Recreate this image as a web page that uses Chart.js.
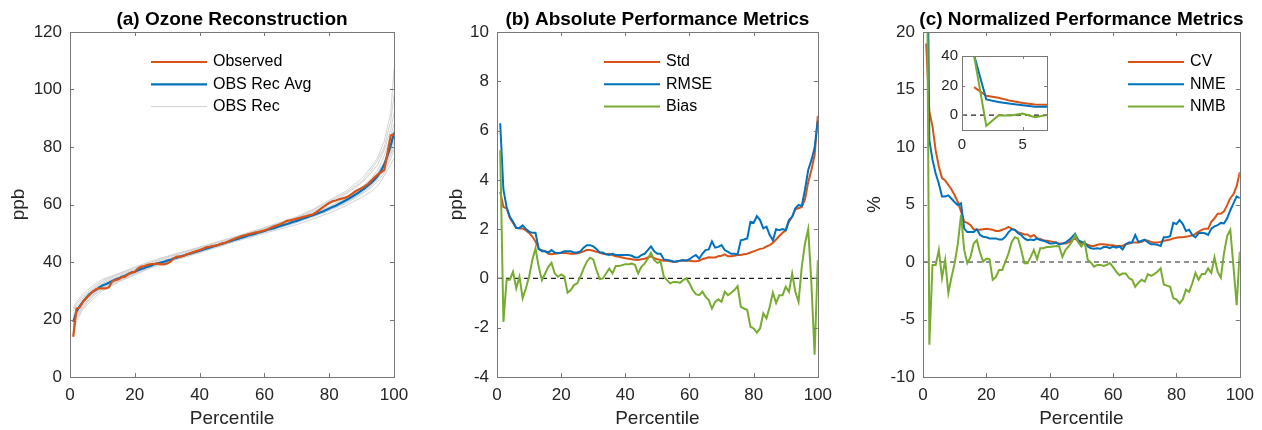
<!DOCTYPE html>
<html>
<head>
<meta charset="utf-8">
<script src="https://cdn.jsdelivr.net/npm/chart.js@4.4.1/dist/chart.umd.min.js"></script>
<style>
    body { margin: 0; background: #fff; width: 1262px; height: 430px; position: relative; overflow: hidden; }
    canvas { position: absolute; }
</style>
</head>
<body>
<canvas id="chartA" width="420" height="430" style="left:0;top:0"></canvas>
<canvas id="chartB" width="420" height="430" style="left:420px;top:0"></canvas>
<canvas id="chartC" width="422" height="430" style="left:840px;top:0"></canvas>
<canvas id="chartInset" width="120" height="120" style="left:935px;top:40px"></canvas>
<script>
// ---- data ----
const pctTicks = [0, 20, 40, 60, 80, 100];
const ozoneTicks = [0, 20, 40, 60, 80, 100, 120];
const absTicks = [-4, -2, 0, 2, 4, 6, 8, 10];
const normTicks = [-10, -5, 0, 5, 10, 15, 20];
const insetXTicks = [0, 5];
const insetYTicks = [0, 20, 40];

// percentiles 1..100
const percentiles = Array.from({ length: 100 }, (_, i) => i + 1);

const observed = [
    14, 23.8, 24.2, 26.2, 27.4, 28.5, 29.7, 30.5, 30.8, 30.8,
    30.8, 31.2, 33.2, 33.7, 34, 34.7, 34.9, 35.8, 36.3, 36.6,
    37.8, 38.4, 38.6, 39, 39.3, 39.3, 39.5, 39.2, 39.2, 39.5,
    40.1, 41.3, 41.9, 41.9, 42.1, 42.7, 43, 43.5, 43.8, 44.2,
    44.6, 45.1, 45.3, 45.6, 45.7, 46.1, 46.5, 46.8, 47.2, 47.7,
    48.2, 48.6, 49, 49.3, 49.6, 49.9, 50.2, 50.4, 50.7, 51,
    51.4, 51.9, 52.4, 52.8, 53.2, 53.7, 54.3, 54.5, 54.8, 55.1,
    55.4, 55.7, 56, 56.3, 56.6, 57.3, 58.1, 59, 59.8, 60.5,
    61.1, 61.4, 61.8, 62.1, 62.4, 62.9, 63.7, 64.5, 65.1, 65.7,
    66.4, 67.2, 68.3, 69.5, 70.5, 71.2, 72, 78, 84, 84.3
];
const recAvg = [
    19.2, 22.7, 24.7, 26.2, 27.6, 28.8, 29.6, 30.3, 31.2, 31.8,
    32.3, 32.8, 33.4, 33.9, 34.3, 34.9, 35.2, 35.8, 36.3, 36.6,
    37.1, 37.6, 37.9, 38.4, 38.7, 39.2, 39.5, 39.8, 40.1, 40.5,
    40.8, 41.2, 41.5, 41.9, 42.2, 42.6, 42.9, 43.2, 43.6, 43.9,
    44.3, 44.6, 45, 45.3, 45.7, 46, 46.4, 46.7, 47.1, 47.4,
    47.8, 48.1, 48.5, 48.8, 49.2, 49.5, 49.8, 50.2, 50.5, 50.8,
    51.2, 51.5, 51.8, 52.2, 52.5, 52.9, 53.2, 53.6, 54, 54.3,
    54.7, 55.1, 55.5, 55.9, 56.3, 56.7, 57.1, 57.6, 58.1, 58.6,
    59.1, 59.6, 60.2, 60.8, 61.4, 62, 62.7, 63.4, 64.1, 64.9,
    65.7, 66.6, 67.6, 68.7, 70, 71.8, 74, 77, 80.5, 85
];

// individual reconstructions, sampled at fewer percentiles
const recPct = [1, 2, 4, 7, 10, 15, 20, 25, 30, 40, 50, 60, 70, 75, 80, 85, 90, 93, 95, 97, 99, 100];
const rec1 = [17, 21, 25, 28.5, 31, 33.5, 36, 38.2, 40, 43.5, 47, 50.5, 54, 56, 58, 60.5, 64, 66.5, 69, 72, 78, 82];
const rec2 = [21, 24.5, 27.5, 30.5, 33, 35.5, 37.5, 39.5, 41.5, 44.8, 48.2, 51.5, 55.2, 57.5, 60.2, 63.5, 67.5, 71, 74, 79, 86, 92];
const rec3 = [16, 19.5, 23.5, 27, 30, 33, 35.5, 38, 40, 43.2, 46.8, 50, 53, 55, 57, 59.5, 62.5, 64.5, 66.5, 70, 74, 76];
const rec4 = [23, 25.5, 28, 31, 33.5, 35.8, 38, 40, 41.8, 45, 48.3, 51.8, 55.5, 58, 61, 64, 68, 72, 75.5, 80, 89, 98];
const rec5 = [19, 22, 26, 29, 31.5, 34, 36.2, 38.5, 40.2, 43.6, 47.2, 50.6, 54.2, 56.5, 58.5, 61, 64.5, 67, 69.5, 73.5, 79, 84];
const rec6 = [18, 23, 26.5, 30, 32.5, 35, 37.2, 39, 41, 44.2, 47.6, 51, 54.6, 56.8, 59.3, 62.2, 66, 69, 72, 77, 84, 88];
const rec7 = [20, 21.5, 24.5, 28, 30.5, 33.3, 35.8, 38, 39.8, 43.3, 46.9, 50.3, 53.7, 55.7, 57.8, 60.3, 63.5, 66, 68, 71, 76, 79];
const rec8 = [24, 26, 28.8, 31.8, 34, 36, 38.2, 40.3, 42, 45.2, 48.5, 52, 55.8, 58.3, 61.5, 64.5, 69, 73, 76.5, 82, 92, 107];
const rec9 = [17.5, 22.5, 25.5, 29.5, 32, 34.5, 36.8, 39, 40.8, 44, 47.4, 50.8, 54.4, 56.4, 58.8, 61.8, 65.5, 68.5, 71, 75, 81, 86];
const rec10 = [19.5, 20.5, 24, 28.2, 31.2, 34, 36.5, 38.6, 40.6, 43.8, 47.3, 50.7, 54.1, 56, 58.2, 60.8, 64, 66.8, 69, 72.5, 77.5, 80];
const recRuns = [rec1, rec2, rec3, rec4, rec5, rec6, rec7, rec8, rec9, rec10];

const stdAbs = [
    3.52, 2.9, 2.85, 2.45, 2.25, 2.05, 2.03, 2.03, 1.95, 1.85,
    1.7, 1.5, 1.2, 1.15, 1.1, 1.0, 0.98, 1.0, 1.02, 1.03,
    1.03, 1.02, 1.0, 1.0, 1.02, 1.05, 1.1, 1.15, 1.15, 1.12,
    1.08, 1.05, 1.0, 0.98, 1.0, 0.95, 0.9, 0.88, 0.85, 0.82,
    0.8, 0.78, 0.76, 0.75, 0.78, 0.8, 0.85, 0.9, 0.82, 0.78,
    0.75, 0.72, 0.72, 0.7, 0.67, 0.68, 0.72, 0.72, 0.73, 0.72,
    0.7, 0.7, 0.72, 0.78, 0.82, 0.86, 0.85, 0.85, 0.9, 0.92,
    0.98, 0.9, 0.9, 0.92, 0.95, 0.95, 0.98, 1.0, 1.05, 1.1,
    1.15, 1.2, 1.22, 1.3, 1.35, 1.45, 1.58, 1.72, 1.85, 1.95,
    2.3, 2.5, 2.8, 2.85, 2.9, 3.2, 3.9, 4.4, 5.0, 6.6
];
const rmseAbs = [
    6.3, 3.6, 2.9, 2.5, 2.3, 2.05, 2.05, 2.15, 2.0, 1.9,
    1.85, 1.85, 1.2, 1.1, 1.1, 1.05, 1.15, 1.05, 1.02, 1.05,
    1.1, 1.1, 1.1, 1.05, 1.05, 1.1, 1.25, 1.35, 1.35, 1.3,
    1.2, 1.05, 1.05, 0.98, 0.95, 1.0, 0.95, 0.95, 0.95, 0.95,
    0.95, 0.92, 0.85, 0.85, 0.95, 1.0, 1.15, 1.3, 1.1, 1.0,
    1.0, 0.77, 0.75, 0.73, 0.68, 0.7, 0.72, 0.75, 0.72, 0.78,
    0.88, 0.95, 0.8, 1.0, 1.15, 1.18, 1.5, 1.25, 1.28, 1.35,
    1.15, 1.08, 1.0, 1.0, 0.98, 1.55, 1.58, 1.62, 2.3, 2.26,
    2.53, 2.37, 2.03, 2.1, 1.76, 1.55, 2.0, 1.96, 2.0, 1.96,
    2.37, 2.5, 2.85, 2.98, 2.94, 3.6, 4.4, 4.8, 5.3, 6.4
];
const biasAbs = [
    5.2, -1.76, -0.05, -0.05, 0.27, -0.4, 0.07, -0.8, -0.4, 0.07,
    0.74, 1.22, 0.47, -0.07, 0.2, 0.47, 0.63, 0.2, 0.07, 0.16,
    0.07, -0.58, -0.47, -0.27, -0.2, 0.07, 0.4, 0.68, 0.84, 0.77,
    0.34, -0.03, 0, 0.2, 0.4, 0.2, 0.5, 0.5, 0.54, 0.58,
    0.58, 0.6, 0.55, 0.2, 0.47, 0.6, 0.8, 1.04, 0.74, 0.63,
    0.68, 0.07, -0.07, -0.2, -0.14, -0.14, -0.18, -0.07, 0, -0.2,
    -0.47, -0.64, -0.68, -0.54, -0.74, -0.88, -1.22, -0.95, -0.85, -0.95,
    -0.54, -0.68, -0.58, -0.47, -0.31, -1.15, -1.22, -1.28, -1.96, -2.03,
    -2.2, -2.03, -1.42, -1.62, -1.15, -0.58, -1.0, -0.68, -0.68, -0.34,
    -0.54, 0.2, -0.54, -0.95, 0.47, 1.42, 2.0, -0.2, -3.1, 0.74
];

const cvPct = [
    19, 13.1, 11.8, 9.7, 8.3, 7.3, 7.1, 6.7, 6.3, 5.8,
    5.2, 4.4, 3.5, 3.4, 3.2, 2.85, 2.8, 2.8, 2.85, 2.9,
    2.85, 2.8, 2.7, 2.7, 2.8, 2.9, 3.05, 2.9, 2.8, 2.6,
    2.5, 2.4, 2.4, 2.2, 2.35, 2.05, 2.0, 1.9, 1.85, 1.8,
    1.75, 1.7, 1.6, 1.6, 1.6, 1.7, 1.9, 2.05, 1.8, 1.6,
    1.6, 1.5, 1.4, 1.4, 1.5, 1.55, 1.55, 1.5, 1.45, 1.45,
    1.4, 1.4, 1.4, 1.55, 1.6, 1.7, 1.7, 1.7, 1.75, 1.9,
    1.85, 1.75, 1.7, 1.7, 1.75, 1.85, 1.9, 1.95, 2.05, 2.1,
    2.15, 2.15, 2.2, 2.25, 2.3, 2.45, 2.65, 2.8, 2.9, 2.9,
    3.5, 3.8, 4.2, 4.2, 4.4, 4.95, 5.55, 5.9, 6.6, 7.8
];
const nmePct = [
    40.5, 10.6, 8.9, 7.7, 6.8, 5.7, 5.7, 5.8, 5.5, 5.2,
    4.95, 5.1, 2.9, 2.6, 2.6, 2.6, 2.85, 2.35, 2.2, 2.15,
    2.05, 2.05, 2.05, 1.95, 1.95, 2.2, 2.6, 2.85, 2.8, 2.5,
    2.35, 2.05, 1.9, 1.95, 1.9, 2.05, 1.9, 1.85, 1.75, 1.6,
    1.6, 1.7, 1.5, 1.6, 1.7, 1.9, 2.15, 2.45, 1.9, 1.75,
    1.7, 1.35, 1.2, 1.15, 1.2, 1.15, 1.3, 1.3, 1.2, 1.35,
    1.25, 1.35, 1.1, 1.55, 1.7, 1.7, 2.35, 1.75, 1.85, 1.95,
    1.7, 1.55, 1.55, 1.5, 1.4, 2.15, 2.15, 2.25, 3.4, 3.3,
    3.65, 3.3, 2.7, 2.8, 2.35, 2.15, 2.5, 2.55, 2.5, 2.35,
    2.9, 3.1, 3.2, 3.4, 3.35, 3.8, 4.5, 5.1, 5.7, 5.55
];
const nmbPct = [
    40, -7.2, -0.26, -0.26, 1.05, -1.4, 0.17, -2.7, -1.3, -0.1,
    1.6, 4.1, 1.05, -0.1, 0.45, 1.6, 1.9, 0.8, 0.03, 0.3,
    0.25, -1.55, -1.3, -0.7, -0.7, 0.03, 0.75, 1.75, 2.15, 2.05,
    1.05, -0.1, -0.1, 0.45, 1.05, 0.25, 1.2, 1.2, 1.3, 1.3,
    1.35, 1.4, 1.35, 0.45, 1.05, 1.35, 1.75, 2.35, 1.7, 1.35,
    1.75, 0.2, -0.05, -0.4, -0.25, -0.25, -0.35, -0.25, -0.1, -0.45,
    -0.85, -1.15, -1.0, -1.0, -1.4, -1.55, -2.15, -1.8, -1.55, -1.7,
    -1.05, -1.2, -1.05, -0.85, -0.55, -1.95, -2.05, -2.15, -3.15, -3.25,
    -3.6, -3.25, -2.4, -2.6, -1.85, -0.95, -1.55, -1.05, -1.05, -0.55,
    -0.95, 0.4, -0.85, -1.35, 0.75, 2.25, 2.8, -0.4, -3.75, 0.9
];

// ---- styling ----
const FONT = '"Liberation Sans", Arial, Helvetica, sans-serif';
const RED = '#d95319';
const BLUE = '#0072bd';
const GREEN = '#77ac30';
const GRAY = '#d2d2d2';
const AXIS = '#777777';
const TEXT = '#262626';

Chart.defaults.font.family = FONT;
Chart.defaults.color = TEXT;
Chart.defaults.animation = false;

const toXY = (xs, ys) => xs.map((x, i) => ({ x: x, y: ys[i] }));

// MATLAB-like box, inward ticks, title and legend
const matlabAxes = {
    id: 'matlabAxes',
    beforeDraw(chart, args, opts) {
        if (!opts.fill) return;
        const { ctx, chartArea: a } = chart;
        ctx.save();
        ctx.fillStyle = '#fff';
        ctx.fillRect(a.left, a.top, a.right - a.left, a.bottom - a.top);
        ctx.restore();
    },
    afterDraw(chart, args, opts) {
        const { ctx, chartArea: a, scales } = chart;
        const len = opts.tickLen || 4;
        ctx.save();
        ctx.strokeStyle = AXIS;
        ctx.lineWidth = 1;
        ctx.beginPath();
        scales.x.ticks.forEach(t => {
            const px = Math.round(scales.x.getPixelForValue(t.value)) + 0.5;
            ctx.moveTo(px, a.bottom); ctx.lineTo(px, a.bottom - len);
            ctx.moveTo(px, a.top); ctx.lineTo(px, a.top + len);
        });
        scales.y.ticks.forEach(t => {
            const py = Math.round(scales.y.getPixelForValue(t.value)) + 0.5;
            ctx.moveTo(a.left, py); ctx.lineTo(a.left + len, py);
            ctx.moveTo(a.right, py); ctx.lineTo(a.right - len, py);
        });
        ctx.stroke();
        ctx.strokeRect(Math.round(a.left) + 0.5, Math.round(a.top) + 0.5,
            Math.round(a.right - a.left), Math.round(a.bottom - a.top));

        if (opts.title) {
            ctx.fillStyle = '#000';
            ctx.font = 'bold 19px ' + FONT;
            ctx.textAlign = 'center';
            ctx.textBaseline = 'middle';
            ctx.fillText(opts.title, (a.left + a.right) / 2, opts.titleY);
        }

        if (opts.legend) {
            const lg = opts.legend;
            const items = chart.data.datasets.filter(ds => ds.label);
            ctx.font = '16px ' + FONT;
            ctx.textAlign = 'left';
            ctx.textBaseline = 'middle';
            items.forEach((ds, i) => {
                const y = a.top + lg.y + i * lg.row;
                const x0 = a.left + lg.x;
                ctx.strokeStyle = ds.borderColor;
                ctx.lineWidth = ds.borderWidth;
                ctx.beginPath();
                ctx.moveTo(x0, y);
                ctx.lineTo(x0 + lg.line, y);
                ctx.stroke();
                ctx.fillStyle = '#000';
                ctx.fillText(ds.label, x0 + lg.line + 6, y);
            });
        }
        ctx.restore();
    }
};

function setTicks(values) {
    return scale => { scale.ticks = values.map(v => ({ value: v })); };
}

function axis(min, max, ticks, opts) {
    return {
        type: 'linear',
        min: min,
        max: max,
        afterBuildTicks: setTicks(ticks),
        afterFit: opts.fit,
        grid: { display: false, drawTicks: false },
        border: { display: false },
        ticks: { font: { size: opts.size || 17 }, color: TEXT, padding: opts.pad, maxRotation: 0, callback: v => String(v) },
        title: opts.title ? { display: true, text: opts.title, font: { size: 19 }, color: TEXT, padding: opts.titlePad } : { display: false }
    };
}

function line(label, data, color, width, order) {
    return {
        label: label,
        data: data,
        borderColor: color,
        borderWidth: width,
        pointRadius: 0,
        tension: 0,
        fill: false,
        order: order
    };
}

function zeroLine(x0, x1) {
    return {
        data: [{ x: x0, y: 0 }, { x: x1, y: 0 }],
        borderColor: '#222',
        borderWidth: 1.2,
        borderDash: [5, 4],
        pointRadius: 0,
        order: 20
    };
}

function baseOptions(padding, xAxis, yAxis, plugin) {
    return {
        responsive: false,
        maintainAspectRatio: false,
        layout: { padding: padding },
        scales: { x: xAxis, y: yAxis },
        plugins: { legend: { display: false }, tooltip: { enabled: false }, title: { display: false }, matlabAxes: plugin }
    };
}

// (a) Ozone reconstruction
const grayRuns = recRuns.map((run, i) => line(i === 0 ? 'OBS Rec' : undefined, toXY(recPct, run), GRAY, 1, 10 + i));
new Chart(document.getElementById('chartA'), {
    type: 'line',
    data: {
        datasets: [
            line('Observed', toXY(percentiles, observed), RED, 2.2, 1),
            line('OBS Rec Avg', toXY(percentiles, recAvg), BLUE, 2.2, 2)
        ].concat(grayRuns)
    },
    options: baseOptions(
        { top: 32, right: 26, bottom: 0, left: 0 },
        axis(0, 100, pctTicks, { fit: s => { s.height = 53; }, pad: 8, title: 'Percentile', titlePad: { top: 0, bottom: 0 } }),
        axis(0, 120, ozoneTicks, { fit: s => { s.width = 70; }, pad: 8, title: 'ppb', titlePad: { top: 7, bottom: 0 } }),
        { title: '(a) Ozone Reconstruction', titleY: 20, legend: { x: 81, y: 30, row: 22.3, line: 56 } }
    ),
    plugins: [matlabAxes]
});

// (b) Absolute performance metrics
new Chart(document.getElementById('chartB'), {
    type: 'line',
    data: {
        datasets: [
            line('Std', toXY(percentiles, stdAbs), RED, 2, 3),
            line('RMSE', toXY(percentiles, rmseAbs), BLUE, 2, 2),
            line('Bias', toXY(percentiles, biasAbs), GREEN, 2, 1),
            zeroLine(0, 100)
        ]
    },
    options: baseOptions(
        { top: 32, right: 20, bottom: 0, left: 0 },
        axis(0, 100, pctTicks, { fit: s => { s.height = 53; }, pad: 8, title: 'Percentile', titlePad: { top: 0, bottom: 0 } }),
        axis(-4, 10, absTicks, { fit: s => { s.width = 77; }, pad: 8, title: 'ppb', titlePad: { top: 25, bottom: 0 } }),
        { title: '(b) Absolute Performance Metrics', titleY: 20, legend: { x: 107, y: 30, row: 22.3, line: 56 } }
    ),
    plugins: [matlabAxes]
});

// (c) Normalized performance metrics
new Chart(document.getElementById('chartC'), {
    type: 'line',
    data: {
        datasets: [
            line('CV', toXY(percentiles, cvPct), RED, 2, 3),
            line('NME', toXY(percentiles, nmePct), BLUE, 2, 2),
            line('NMB', toXY(percentiles, nmbPct), GREEN, 2, 1),
            zeroLine(0, 100)
        ]
    },
    options: baseOptions(
        { top: 32, right: 16, bottom: 0, left: 0 },
        axis(0, 100, pctTicks, { fit: s => { s.height = 53; }, pad: 8, title: 'Percentile', titlePad: { top: 0, bottom: 0 } }),
        axis(-10, 20, normTicks, { fit: s => { s.width = 83; }, pad: 8, title: '%', titlePad: { top: 23, bottom: 0 } }),
        { title: '(c) Normalized Performance Metrics', titleY: 20, legend: { x: 205, y: 30, row: 22.3, line: 56 } }
    ),
    plugins: [matlabAxes]
});

// inset: first few percentiles of panel (c)
new Chart(document.getElementById('chartInset'), {
    type: 'line',
    data: {
        datasets: [
            line(undefined, toXY(percentiles, cvPct), RED, 2, 3),
            line(undefined, toXY(percentiles, nmePct), BLUE, 2, 2),
            line(undefined, toXY(percentiles, nmbPct), GREEN, 2, 1),
            zeroLine(0, 7)
        ]
    },
    options: baseOptions(
        { top: 16, right: 8, bottom: 0, left: 0 },
        axis(0, 7, insetXTicks, { fit: s => { s.height = 30; }, pad: 6, size: 15 }),
        axis(-10, 40, insetYTicks, { fit: s => { s.width = 27; }, pad: 4, size: 15 }),
        { fill: true, tickLen: 3 }
    ),
    plugins: [matlabAxes]
});
</script>
</body>
</html>
